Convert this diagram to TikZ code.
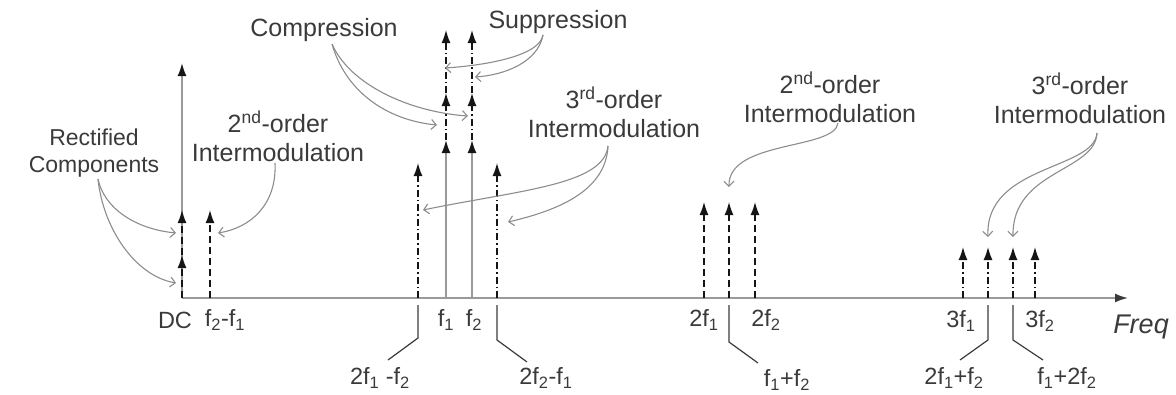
\documentclass[tikz,border=0pt]{standalone}
\usepackage{fontspec}
\setmainfont{Liberation Sans}
\usetikzlibrary{arrows.meta}
\definecolor{txt}{HTML}{3A3A3A}
\definecolor{axisgray}{HTML}{9A9A9A}
\definecolor{anngray}{HTML}{8C8C8C}
\definecolor{tipblack}{HTML}{151515}
\begin{document}
\begin{tikzpicture}[x=1pt,y=-1pt,
  lbl/.style={text=txt,font=\fontsize{25}{29}\selectfont,inner sep=0pt,align=center},
  axlbl/.style={text=txt,font=\fontsize{23.5}{26}\selectfont,inner sep=0pt},
  freqlbl/.style={text=txt,font=\fontsize{27}{30}\selectfont\itshape,inner sep=0pt},
  tipstyle/.style={-{Latex[length=13pt,width=9pt,color=tipblack]}},
  solidv/.style={axisgray,line width=1.8pt,tipstyle},
  dashv/.style={tipblack,line width=1.4pt,dash pattern=on 7pt off 4pt,tipstyle},
  dashdotv/.style={tipblack,line width=1.4pt,dash pattern=on 7pt off 3pt on 1.5pt off 3pt,tipstyle},
  leader/.style={txt,line width=1.2pt},
  ann/.style={anngray,line width=1.1pt,-{Straight Barb[length=5pt,width=10pt]}},
  axisline/.style={axisgray,line width=1.8pt,-{Latex[length=13pt,width=9pt,color=txt]}}
]
\useasboundingbox (0,0) rectangle (1176,394);

% ---------- coordinates on the axis ----------
\coordinate (o) at (182,298);
\coordinate (axend) at (1128,298);
\coordinate (bDC) at (182,298);
\coordinate (bD) at (210,298);
\coordinate (bA) at (418,298);
\coordinate (bF1) at (446,298);
\coordinate (bF2) at (472,298);
\coordinate (bB) at (497,298);
\coordinate (b2F1) at (704,298);
\coordinate (bS) at (729,298);
\coordinate (b2F2) at (755,298);
\coordinate (b3F1) at (963,298);
\coordinate (bC) at (988,298);
\coordinate (bE) at (1013,298);
\coordinate (b3F2) at (1035,298);

% tips
\coordinate (tDCtop) at (182,63);
\coordinate (tDC1) at (182,255);
\coordinate (tDC2) at (182,210);
\coordinate (tD) at (210,210);
\coordinate (tA) at (418,163);
\coordinate (tF1a) at (446,140);
\coordinate (tF1b) at (446,93);
\coordinate (tF1c) at (446,30);
\coordinate (tF2a) at (472,140);
\coordinate (tF2b) at (472,93);
\coordinate (tF2c) at (472,30);
\coordinate (tB) at (497,163);
\coordinate (t2F1) at (704,202);
\coordinate (tS) at (729,202);
\coordinate (t2F2) at (755,202);
\coordinate (t3F1) at (963,247);
\coordinate (tC) at (988,247);
\coordinate (tE) at (1013,247);
\coordinate (t3F2) at (1035,247);

% ---------- axis ----------
\draw[axisline] (o) -- (axend);

% ---------- spectral lines ----------
\draw[solidv] (bDC) -- (tDCtop);
\draw[dashv] (bDC) -- (tDC1);
\draw[dashv] (tDC1) -- (tDC2);
\draw[dashv] (bD) -- (tD);

\draw[dashdotv] (bA) -- (tA);
\draw[solidv] (bF1) -- (tF1a);
\draw[dashdotv] (tF1a) -- (tF1b);
\draw[dashdotv] (tF1b) -- (tF1c);
\draw[solidv] (bF2) -- (tF2a);
\draw[dashdotv] (tF2a) -- (tF2b);
\draw[dashdotv] (tF2b) -- (tF2c);
\draw[dashdotv] (bB) -- (tB);

\draw[dashv] (b2F1) -- (t2F1);
\draw[dashv] (bS) -- (tS);
\draw[dashv] (b2F2) -- (t2F2);

\draw[dashdotv] (b3F1) -- (t3F1);
\draw[dashdotv] (bC) -- (tC);
\draw[dashdotv] (bE) -- (tE);
\draw[dashdotv] (b3F2) -- (t3F2);

% ---------- axis labels ----------
\node[axlbl] (lDC) at (175,320) {DC};
\node[axlbl] (lD) at (225,320) {f\textsubscript{2}-f\textsubscript{1}};
\node[axlbl] (lF1) at (446,320) {f\textsubscript{1}};
\node[axlbl] (lF2) at (474,320) {f\textsubscript{2}};
\node[axlbl] (l2F1) at (704,320) {2f\textsubscript{1}};
\node[axlbl] (l2F2) at (766,320) {2f\textsubscript{2}};
\node[axlbl] (l3F1) at (961,321) {3f\textsubscript{1}};
\node[axlbl] (l3F2) at (1040,321) {3f\textsubscript{2}};
\node[freqlbl] (lFreq) at (1141,327) {Freq};

% ---------- leader lines and lower labels ----------
\coordinate (kA1) at (418,305); \coordinate (kA2) at (418,338); \coordinate (kA3) at (388,360);
\coordinate (kB1) at (497,305); \coordinate (kB2) at (497,340); \coordinate (kB3) at (527,362);
\coordinate (kS1) at (729,305); \coordinate (kS2) at (729,342); \coordinate (kS3) at (758,363);
\coordinate (kC1) at (988,305); \coordinate (kC2) at (988,340); \coordinate (kC3) at (960,360);
\coordinate (kE1) at (1013,305); \coordinate (kE2) at (1013,340); \coordinate (kE3) at (1043,360);
\draw[leader] (kA1) -- (kA2) -- (kA3);
\draw[leader] (kB1) -- (kB2) -- (kB3);
\draw[leader] (kS1) -- (kS2) -- (kS3);
\draw[leader] (kC1) -- (kC2) -- (kC3);
\draw[leader] (kE1) -- (kE2) -- (kE3);
\node[axlbl] (lA) at (380,378) {2f\textsubscript{1} -f\textsubscript{2}};
\node[axlbl] (lB) at (546,378) {2f\textsubscript{2}-f\textsubscript{1}};
\node[axlbl] (lS) at (787,380) {f\textsubscript{1}+f\textsubscript{2}};
\node[axlbl] (lC) at (954,378) {2f\textsubscript{1}+f\textsubscript{2}};
\node[axlbl] (lE) at (1067,378) {f\textsubscript{1}+2f\textsubscript{2}};

% ---------- annotations ----------
\node[lbl,font=\fontsize{23}{27}\selectfont] (rect) at (94,153) {Rectified\\Components};
\node[lbl] (im2a) at (278,136) {2\textsuperscript{nd}-order\\Intermodulation};
\node[lbl] (comp) at (324,30) {Compression};
\node[lbl] (supp) at (558,22) {Suppression};
\node[lbl] (im3a) at (614,112) {3\textsuperscript{rd}-order\\Intermodulation};
\node[lbl] (im2b) at (830,97) {2\textsuperscript{nd}-order\\Intermodulation};
\node[lbl] (im3b) at (1080,98) {3\textsuperscript{rd}-order\\Intermodulation};

\coordinate (sRect) at (98,179);
\coordinate (sIm2a) at (275,163);
\coordinate (sComp) at (332,44);
\coordinate (sSupp) at (543,35);
\coordinate (sIm3a) at (608,146);
\coordinate (sIm2b) at (838,123);
\coordinate (sIm3b) at (1097,133);

\coordinate (eRect1) at (176,233);
\coordinate (eRect2) at (176,283);
\coordinate (eIm2a) at (218,233);
\coordinate (eComp1) at (437,125);
\coordinate (eComp2) at (468,116);
\coordinate (eSupp1) at (445,68);
\coordinate (eSupp2) at (475,77);
\coordinate (eIm3a1) at (423,210);
\coordinate (eIm3a2) at (508,222);
\coordinate (eIm2b) at (729,187);
\coordinate (eIm3b1) at (988,237);
\coordinate (eIm3b2) at (1013,237);

\draw[ann] (sRect) .. controls (104,208) and (135,229) .. (eRect1);
\draw[ann] (sRect) .. controls (103,228) and (135,276) .. (eRect2);
\draw[ann] (sIm2a) .. controls (277,205) and (250,228) .. (eIm2a);
\draw[ann] (sComp) .. controls (345,90) and (385,120) .. (eComp1);
\draw[ann] (sComp) .. controls (350,85) and (410,112) .. (eComp2);
\draw[ann] (sSupp) .. controls (540,55) and (490,65) .. (eSupp1);
\draw[ann] (sSupp) .. controls (538,62) and (505,75) .. (eSupp2);
\draw[ann] (sIm3a) .. controls (604,185) and (520,190) .. (eIm3a1);
\draw[ann] (sIm3a) .. controls (606,190) and (560,210) .. (eIm3a2);
\draw[ann] (sIm2b) .. controls (835,150) and (728,140) .. (eIm2b);
\draw[ann] (sIm3b) .. controls (1094,170) and (985,165) .. (eIm3b1);
\draw[ann] (sIm3b) .. controls (1095,172) and (1012,170) .. (eIm3b2);
\end{tikzpicture}
\end{document}
